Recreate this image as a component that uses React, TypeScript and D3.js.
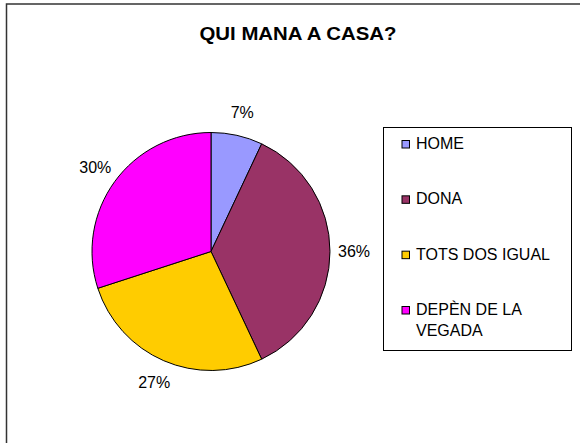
import React from "react";
import * as d3 from "d3";

const title = "QUI MANA A CASA?";
const categories = ["HOME", "DONA", "TOTS DOS IGUAL", "DEPÈN DE LA VEGADA"];
const values = [7, 36, 27, 30];
const colors = ["#9999FF", "#993366", "#FFCC00", "#FF00FF"];
const legendLines = [["HOME"], ["DONA"], ["TOTS DOS IGUAL"], ["DEPÈN DE LA", "VEGADA"]];

const W = 580;
const H = 443;
const FONT = "'Liberation Sans', Arial, Helvetica, sans-serif";

export default function App() {
  const cx = 211;
  const cy = 251.5;
  const r = 119;
  const pie = d3.pie<number>().sort(null).value((d) => d);
  const arcs = pie(values);
  const arc = d3.arc<d3.PieArcDatum<number>>().innerRadius(0).outerRadius(r);
  const labelArc = d3.arc<d3.PieArcDatum<number>>().innerRadius(143).outerRadius(143);
  const total = d3.sum(values);

  const legend = { x: 383, y: 127, w: 188, h: 223 };
  const rowY = d3.scaleLinear().domain([0, 3]).range([149, 315]);

  return (
    <svg
      width={W}
      height={H}
      style={{ position: "absolute", left: 0, top: 0, background: "#fff" }}
      fontFamily={FONT}
    >
      <rect x={6.5} y={4} width={W} height={H + 10} fill="#fff" stroke="#333" strokeWidth={1.5} />
      <text
        x={298}
        y={40}
        textAnchor="middle"
        fontSize={18.5}
        fontWeight="bold"
        fill="#000"
        textLength={197}
        lengthAdjust="spacingAndGlyphs"
      >
        {title}
      </text>
      <g transform={`translate(${cx},${cy})`}>
        {arcs.map((a, i) => (
          <path key={categories[i]} d={arc(a) || ""} fill={colors[i]} stroke="#000" strokeWidth={1} />
        ))}
        {arcs.map((a, i) => {
          const [lx, ly] = labelArc.centroid(a);
          return (
            <text
              key={"l" + i}
              x={lx}
              y={ly}
              dy="0.36em"
              textAnchor="middle"
              fontSize={16}
              fill="#000"
            >
              {`${Math.round((values[i] / total) * 100)}%`}
            </text>
          );
        })}
      </g>
      <rect
        x={legend.x + 0.5}
        y={legend.y + 0.5}
        width={legend.w}
        height={legend.h}
        fill="#fff"
        stroke="#000"
        strokeWidth={1}
      />
      {categories.map((c, i) => {
        const y = rowY(i);
        return (
          <g key={c}>
            <rect x={402} y={y - 8.5} width={7.5} height={7.5} fill={colors[i]} stroke="#000" strokeWidth={1} />
            {legendLines[i].map((line, j) => (
              <text key={j} x={416} y={y + j * 20.7} fontSize={16} fill="#000">
                {line}
              </text>
            ))}
          </g>
        );
      })}
    </svg>
  );
}
